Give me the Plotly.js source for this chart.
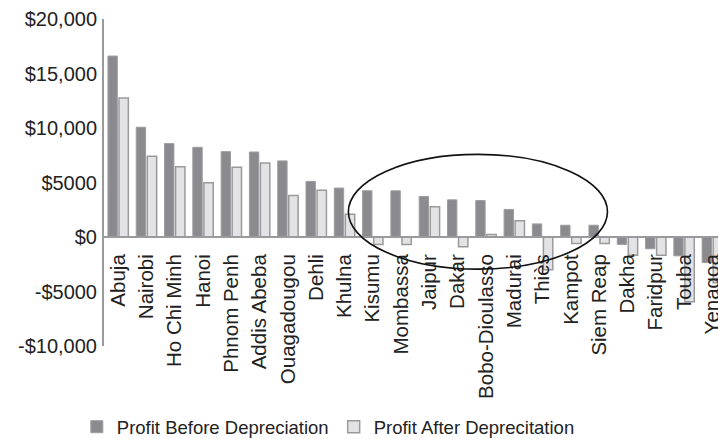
<!DOCTYPE html>
<html>
<head>
<meta charset="utf-8">
<script src="https://cdn.plot.ly/plotly-3.0.1.min.js"></script>
<style>html,body{margin:0;padding:0;background:#fff;}#chart{width:718px;height:439px;}</style>
</head>
<body>
<div id="chart"></div>
<script>
const cities = ["Abuja","Nairobi","Ho Chi Minh","Hanoi","Phnom Penh","Addis Abeba","Ouagadougou","Dehli","Khulna","Kisumu","Mombassa","Jaipur","Dakar","Bobo-Dioulasso","Madurai","Thiès","Kampot","Siem Reap","Dakha","Faridpur","Touba","Yenagoa"];
const profitBefore = [16600,10070,8570,8230,7830,7800,6980,5100,4490,4240,4240,3720,3410,3350,2530,1200,1080,1080,-680,-1080,-1730,-2350];
const profitAfter = [12750,7400,6450,4980,6390,6790,3810,4300,2090,-680,-680,2770,-890,220,1480,-3000,-590,-590,-1680,-1680,-5950,-4200];
const yTickVals = [20000,15000,10000,5000,0,-5000,-10000];
const yTickText = ["$20,000","$15,000","$10,000","$5000","$0","-$5000","-$10,000"];

const font = "Liberation Sans, Arial, Helvetica, sans-serif";
const traces = [
  {type:"bar", name:"Profit Before Depreciation", x:cities, y:profitBefore,
   marker:{color:"#8b8b8f", line:{color:"#9d9da0", width:1}}},
  {type:"bar", name:"Profit After Deprecitation", x:cities, y:profitAfter,
   marker:{color:"#e3e3e5", line:{color:"#9a9a9c", width:1.5}}}
];
const layout = {
  width:718, height:439,
  margin:{l:104, r:0, t:19, b:93},
  paper_bgcolor:"#fff", plot_bgcolor:"#fff",
  font:{family:font, color:"#222"},
  barmode:"group", bargap:0.22, bargroupgap:0.15,
  showlegend:true,
  legend:{orientation:"h", xref:"container", x:0.107, xanchor:"left", yref:"container", y:0.027, yanchor:"middle",
          font:{size:18.5, color:"#222"}, bgcolor:"rgba(0,0,0,0)", entrywidthmode:"pixels"},
  xaxis:{type:"category", range:[-0.5,21.2], anchor:"free", position:1/3,
         showline:true, linecolor:"#9a9a9c", linewidth:2, ticks:"", tickangle:-90,
         tickfont:{size:20.5, color:"#222"}, ticklabelstandoff:8,
         showgrid:false, zeroline:false, automargin:false},
  yaxis:{range:[-10000,20000], tickvals:yTickVals, ticktext:yTickText,
         showline:true, linecolor:"#9a9a9c", linewidth:2, ticks:"",
         tickfont:{size:20, color:"#222"}, ticklabelstandoff:1,
         showgrid:false, zeroline:false, automargin:false},
  shapes:[{type:"circle", xref:"paper", yref:"paper", x0:0.398, x1:0.820, y0:0.235, y1:0.586,
           line:{color:"#111", width:1.6}}]
};
Plotly.newPlot("chart", traces, layout, {displayModeBar:false, staticPlot:true});
</script>
</body>
</html>
